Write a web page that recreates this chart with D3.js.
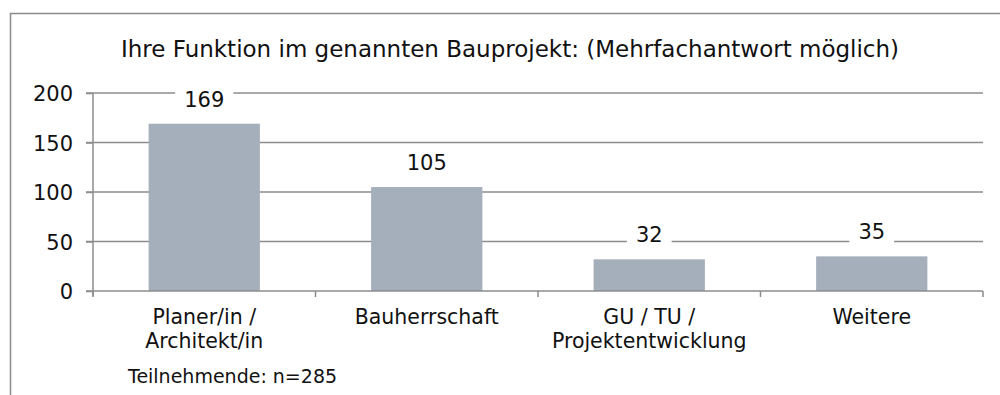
<!DOCTYPE html>
<html>
<head>
<meta charset="utf-8">
<script src="https://cdn.jsdelivr.net/npm/d3@7"></script>
<style>
  html, body { margin: 0; padding: 0; background: #fff; }
  svg { display: block; font-family: "DejaVu Sans", Verdana, sans-serif; }
</style>
</head>
<body>
<svg id="chart" width="1000" height="395"></svg>
<script>
// Survey data: role in the named construction project (multiple answers possible)
const categories = [
  ["Planer/in /", "Architekt/in"],
  ["Bauherrschaft"],
  ["GU / TU /", "Projektentwicklung"],
  ["Weitere"]
];
const counts = [169, 105, 32, 35];
const yTicks = [0, 50, 100, 150, 200];
const titleText = "Ihre Funktion im genannten Bauprojekt: (Mehrfachantwort möglich)";
const noteText = "Teilnehmende: n=285";

const svg = d3.select("#chart");
const plot = { left: 93, right: 983, top: 93, bottom: 291 };
const gray = "#8c8c8c";
const ink = "#111";

// outer frame
svg.append("rect")
  .attr("x", 10.5).attr("y", 13.5)
  .attr("width", 1000).attr("height", 400)
  .attr("fill", "#fff").attr("stroke", gray).attr("stroke-width", 1.5);

// title
svg.append("text")
  .attr("x", 510).attr("y", 56.5)
  .attr("text-anchor", "middle")
  .attr("font-size", 23)
  .attr("fill", ink)
  .text(titleText);

const idx = d3.range(categories.length);
const x = d3.scaleBand().domain(idx).range([plot.left, plot.right]).paddingInner(0.5).paddingOuter(0.25);
const y = d3.scaleLinear().domain([0, 200]).range([plot.bottom, plot.top]);

// gridlines
svg.append("g").selectAll("line").data(yTicks.filter(d => d > 0)).join("line")
  .attr("x1", plot.left - 7).attr("x2", plot.right)
  .attr("y1", d => y(d)).attr("y2", d => y(d))
  .attr("stroke", gray).attr("stroke-width", 1.5);

// y axis
const yAxis = svg.append("g").attr("transform", `translate(${plot.left},0)`)
  .call(d3.axisLeft(y).tickValues(yTicks).tickSize(7).tickPadding(13));
yAxis.select(".domain").attr("stroke", gray).attr("stroke-width", 1.5)
  .attr("d", `M0,${plot.top}V${plot.bottom + 5}`);
yAxis.selectAll(".tick line").attr("stroke", gray).attr("stroke-width", 1.5);
yAxis.selectAll(".tick text").attr("font-size", 21).attr("fill", ink)
  .attr("font-family", "DejaVu Sans, sans-serif").attr("dy", "0.36em");

// bars
svg.append("g").selectAll("rect").data(idx).join("rect")
  .attr("x", i => x(i))
  .attr("y", i => y(counts[i]))
  .attr("width", x.bandwidth())
  .attr("height", i => y(0) - y(counts[i]))
  .attr("fill", "#a5afbb");

// x axis with category boundary ticks
const step = x.step();
const bounds = d3.range(categories.length + 1).map(k => plot.left + k * step);
svg.append("line")
  .attr("x1", plot.left - 7).attr("x2", plot.right)
  .attr("y1", y(0)).attr("y2", y(0))
  .attr("stroke", gray).attr("stroke-width", 1.5);
svg.append("g").selectAll("line").data(bounds).join("line")
  .attr("x1", d => d).attr("x2", d => d)
  .attr("y1", y(0)).attr("y2", y(0) + 6)
  .attr("stroke", gray).attr("stroke-width", 1.5);

// category labels
const catG = svg.append("g").selectAll("text").data(idx).join("text")
  .attr("x", i => x(i) + x.bandwidth() / 2)
  .attr("y", 324)
  .attr("text-anchor", "middle")
  .attr("font-size", 20.5)
  .attr("fill", ink);
catG.each(function (i) {
  const t = d3.select(this);
  categories[i].forEach((line, k) => {
    t.append("tspan").attr("x", x(i) + x.bandwidth() / 2).attr("dy", k === 0 ? 0 : 24).text(line);
  });
});

// value labels with white backing
const lab = svg.append("g").selectAll("g").data(idx).join("g")
  .attr("transform", i => `translate(${x(i) + x.bandwidth() / 2},${y(counts[i]) - 17})`);
lab.append("rect").attr("fill", "#fff");
lab.append("text")
  .attr("text-anchor", "middle")
  .attr("font-size", 21)
  .attr("fill", ink)
  .text(i => counts[i]);
lab.each(function () {
  const g = d3.select(this);
  const bb = g.select("text").node().getBBox();
  g.select("rect").attr("x", bb.x - 9).attr("y", bb.y).attr("width", bb.width + 18).attr("height", bb.height);
});

// respondents note
svg.append("text")
  .attr("x", 128).attr("y", 383)
  .attr("font-size", 19)
  .attr("fill", ink)
  .text(noteText);
</script>
</body>
</html>
